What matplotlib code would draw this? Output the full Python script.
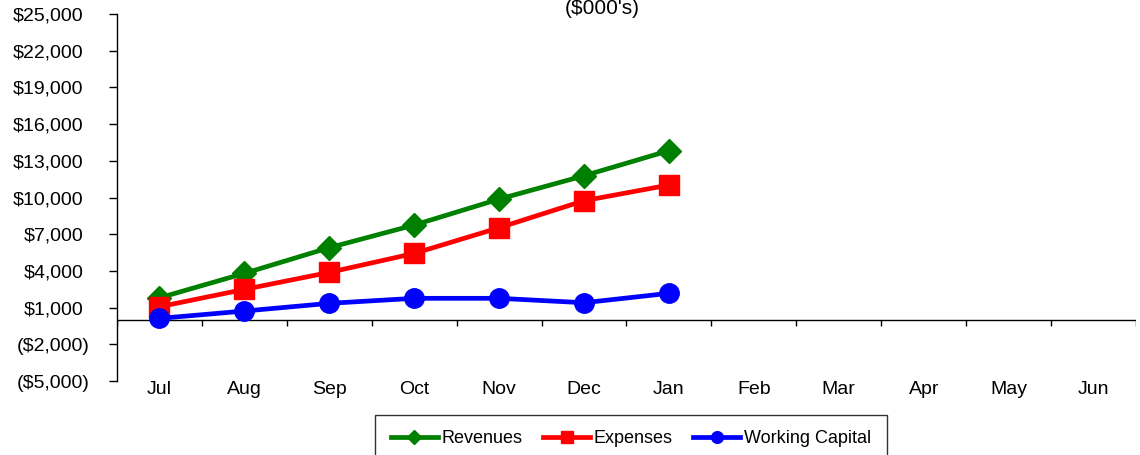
import matplotlib
matplotlib.use("Agg")
import matplotlib.pyplot as plt
from matplotlib.ticker import FixedLocator, FuncFormatter
import numpy as np

months = ["Jul", "Aug", "Sep", "Oct", "Nov", "Dec", "Jan", "Feb", "Mar", "Apr", "May", "Jun"]
revenues = [1800, 3800, 5900, 7750, 9870, 11780, 13830]
expenses = [1070, 2490, 3880, 5430, 7530, 9740, 11020]
working_capital = [120, 720, 1350, 1760, 1760, 1400, 2170]
y_ticks = list(range(-5000, 25001, 3000))
title_text = "($000's)"

plt.rcParams['font.family'] = ['Liberation Sans', 'DejaVu Sans']

fig = plt.figure(figsize=(11.4, 4.55), dpi=100)
ax = fig.add_axes([0.1026, 0.1626, 0.9965 - 0.1026, 0.9692 - 0.1626])

x = np.arange(len(revenues))
ax.plot(x, revenues, color="#008000", lw=3.4, marker="D", ms=12, label="Revenues")
ax.plot(x, expenses, color="#FF0000", lw=3.4, marker="s", ms=14, label="Expenses")
ax.plot(x, working_capital, color="#0000FF", lw=3.4, marker="o", ms=14, label="Working Capital")

ax.set_xlim(-0.5, len(months) - 0.5)
ax.set_ylim(y_ticks[0], y_ticks[-1])

for s in ["top", "right", "bottom"]:
    ax.spines[s].set_visible(False)
ax.spines["left"].set_linewidth(1.0)

# horizontal axis line at zero with boundary ticks
ax.axhline(0, color="black", lw=1.0, zorder=1)
bounds = np.arange(-0.5, len(months), 1.0)
ax.set_xticks([])
ax.vlines(bounds, -480, 0, color="black", lw=1.0, zorder=1)

# month labels below plot area
sec = ax.secondary_xaxis("bottom")
sec.set_xticks(range(len(months)))
sec.set_xticklabels(months, fontsize=14)
sec.tick_params(length=0, pad=0)
sec.spines["bottom"].set_visible(False)

def fmt(v, pos):
    if v < 0:
        return "(${:,.0f})".format(-v)
    return "${:,.0f}".format(v)

ax.yaxis.set_major_locator(FixedLocator(y_ticks))
ax.yaxis.set_major_formatter(FuncFormatter(fmt))
ax.tick_params(axis="y", direction="out", length=6, width=1.0, labelsize=14, pad=14)
for t, v in zip(ax.yaxis.get_major_ticks(len(y_ticks)), y_ticks):
    if v >= 0:
        t.set_pad(18)

fig.text(0.528, 1 - 14 / 455, title_text, ha="center", va="baseline", fontsize=15)

leg = fig.legend(loc="upper center", bbox_to_anchor=(631 / 1140, 1 - 415 / 455), ncol=3,
                 fontsize=13, frameon=True, fancybox=False, edgecolor="black",
                 handlelength=2.6, handletextpad=0.2, columnspacing=1.15, markerscale=0.6,
                 borderpad=0.85, borderaxespad=0)
leg.get_frame().set_linewidth(1.0)

fig.savefig("out.png", dpi=100)
